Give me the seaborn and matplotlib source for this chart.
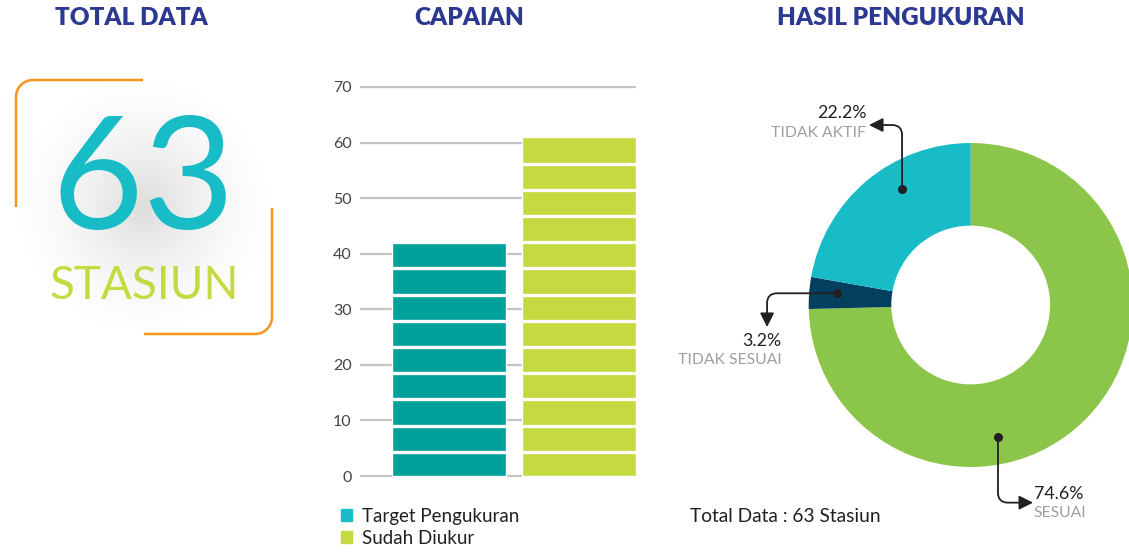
import numpy as np
import pandas as pd
import matplotlib
matplotlib.use('Agg')
import matplotlib.pyplot as plt
import seaborn as sns
from matplotlib.patches import Patch

# Data
total_stasiun = 63

capaian_labels = ['Target Pengukuran', 'Sudah Diukur']
capaian_values = [42, 61]
capaian_colors = ['#00A19A', '#C5D940']
legend_colors = ['#17BCC6', '#C5D940']

hasil_labels = ['SESUAI', 'TIDAK SESUAI', 'TIDAK AKTIF']
hasil_counts = [47, 2, 14]
hasil_colors = ['#8BC64A', '#033F5E', '#17BCC6']

sns.set_theme(style='white')
plt.rcParams['font.family'] = ['Lato', 'DejaVu Sans']

W, H = 1129, 552
fig = plt.figure(figsize=(W / 100, H / 100), dpi=100)

# background layer in pixel coords (titles, big number, brackets)
bg = fig.add_axes([0, 0, 1, 1], zorder=0)

# soft grey glow behind the number
n = 300
yy, xx = np.mgrid[0:n, 0:n]
r = np.hypot(xx - n / 2, yy - n / 2) / (n / 2)
glow = np.zeros((n, n, 4))
glow[..., :3] = 0.70
glow[..., 3] = np.clip(1 - r, 0, 1) ** 1.5 * 0.45
bg.imshow(glow, extent=(143 - 130, 143 + 130, 205 + 130, 205 - 130), aspect='auto', zorder=1)

# orange rounded brackets
rc = 17
t = np.linspace(np.pi / 2, np.pi, 20)
tl_x = np.concatenate([[143], 16 + rc + rc * np.cos(t), [16]])
tl_y = np.concatenate([[80], 80 + rc - rc * np.sin(t), [207]])
t = np.linspace(0, -np.pi / 2, 20)
br_x = np.concatenate([[272], 272 - rc + rc * np.cos(t), [144]])
br_y = np.concatenate([[208], 334 - rc - rc * np.sin(t), [334]])
bg.plot(tl_x, tl_y, color='#F7941D', lw=1.8, solid_capstyle='butt', zorder=2)
bg.plot(br_x, br_y, color='#F7941D', lw=1.8, solid_capstyle='butt', zorder=2)

bg.text(143, 185, str(total_stasiun), ha='center', va='center', fontsize=114,
        fontweight='normal', color='#17BCC6', zorder=3)
bg.text(144, 286, 'STASIUN', ha='center', va='center', fontsize=33,
        fontweight='normal', color='#C5D940', zorder=3)

title_kw = dict(ha='center', va='center', fontsize=17.5, fontweight='heavy', color='#2B3990')
bg.text(131, 18, 'TOTAL DATA', **title_kw)
bg.text(469, 18, 'CAPAIAN', **title_kw)
bg.text(901, 18, 'HASIL PENGUKURAN', **title_kw)

bg.text(690, 516, f'Total Data : {sum(hasil_counts)} Stasiun', ha='left', va='center',
        fontsize=13.8, color='#231F20')

bg.set_xlim(0, W)
bg.set_ylim(H, 0)
bg.axis('off')

# Capaian bar chart
px_unit = 389 / 70
y_lo, y_hi = -0.4, 70.4
ax = fig.add_axes([360 / W, (H - (476 - y_lo * px_unit)) / H, 276 / W,
                   (y_hi - y_lo) * px_unit / H], zorder=1)
df_cap = pd.DataFrame({'kategori': capaian_labels, 'nilai': capaian_values})
sns.barplot(data=df_cap, x='kategori', y='nilai', hue='kategori', palette=capaian_colors,
            saturation=1, width=0.877, legend=False, ax=ax, zorder=2)

# white separators give the stacked-block look
for p in ax.patches:
    x0, w, h = p.get_x(), p.get_width(), p.get_height()
    for yv in np.arange(4.37, h - 2, 4.71):
        ax.hlines(yv, x0, x0 + w, color='white', lw=2.4, zorder=3)

ax.set_xlim(-0.685, 1.438)
ax.set_ylim(y_lo, y_hi)
ax.set_yticks(range(0, 71, 10))
ax.yaxis.grid(True, color='#C4C4C4', lw=1.6)
ax.xaxis.grid(False)
ax.set_axisbelow(True)
ax.tick_params(axis='y', length=0, pad=6, labelsize=11.5, labelcolor='#444444')
ax.set_xticks([])
ax.set_xlabel('')
ax.set_ylabel('')
ax.patch.set_alpha(0)
sns.despine(ax=ax, left=True, bottom=True)

handles = [Patch(color=c, label=l) for c, l in zip(legend_colors, capaian_labels)]
leg = fig.legend(handles=handles, loc='upper left', bbox_to_anchor=(341 / W, 1 - 508 / H),
                 frameon=False, fontsize=13.5, handlelength=0.6, handleheight=0.6,
                 handletextpad=0.5, labelspacing=0.25, borderpad=0, borderaxespad=0)
for txt in leg.get_texts():
    txt.set_color('#231F20')

# Hasil pengukuran donut
R = 162
a = 1.2
cx, cy = 970.7, 305
pax = fig.add_axes([(cx - a * R) / W, (H - cy - a * R) / H, 2 * a * R / W, 2 * a * R / H], zorder=1)
pax.pie(hasil_counts, colors=hasil_colors, startangle=90, counterclock=False, radius=1,
        wedgeprops=dict(width=0.51, edgecolor='none'))
pax.set_xlim(-a, a)
pax.set_ylim(-a, a)
pax.set_aspect('equal')
pax.axis('off')

pct = np.array(hasil_counts) / sum(hasil_counts) * 100
# callout layout: dot angle, arrow tip, connection angles, text position, alignment
callouts = {
    'SESUAI': dict(ang=-78.3, tip=(0.385, -1.22), conn=(90, 0), txt=(0.39, -1.167, -1.284), ha='left'),
    'TIDAK SESUAI': dict(ang=175.0, tip=(-1.257, -0.136), conn=(0, 90), txt=(-1.167, -0.222, -0.34), ha='right'),
    'TIDAK AKTIF': dict(ang=120.7, tip=(-0.628, 1.111), conn=(90, 0), txt=(-0.645, 1.185, 1.062), ha='right'),
}
for lab, val in zip(hasil_labels, pct):
    c = callouts[lab]
    th = np.deg2rad(c['ang'])
    dot = (0.83 * np.cos(th), 0.83 * np.sin(th))
    pax.annotate('', xy=c['tip'], xytext=dot, annotation_clip=False,
                 arrowprops=dict(arrowstyle='-|>,head_length=0.6,head_width=0.3', mutation_scale=14,
                                 color='#231F20', lw=1.3, shrinkA=0, shrinkB=0,
                                 connectionstyle=f"angle,angleA={c['conn'][0]},angleB={c['conn'][1]},rad=10"))
    pax.scatter([dot[0]], [dot[1]], s=30, color='#231F20', zorder=5, clip_on=False)
    tx, ty1, ty2 = c['txt']
    pax.text(tx, ty1, f'{val:.1f}%', ha=c['ha'], va='center', fontsize=12.8, color='#231F20')
    pax.text(tx, ty2, lab, ha=c['ha'], va='center', fontsize=11.3, color='#9D9FA2')

fig.savefig('out.png', dpi=100)
